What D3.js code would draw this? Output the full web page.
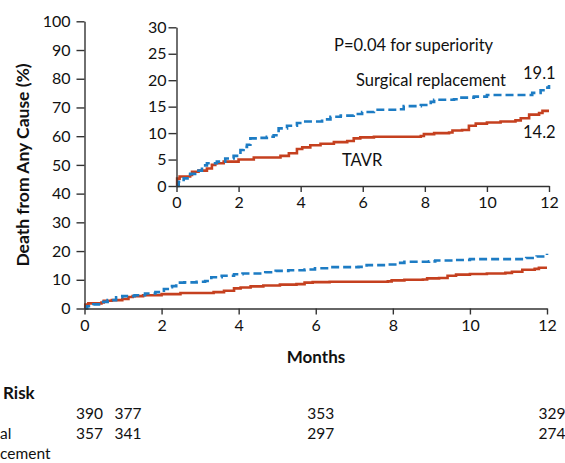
<!DOCTYPE html>
<html>
<head>
	<title>Death from Any Cause</title>
	<script src="https://d3js.org/d3.v7.min.js"></script>
	<style>
		body { margin: 0; background: #fff; }
		svg { display: block; font-family: Lato, "Open Sans", sans-serif; }
	</style>
</head>
<body>
	<script>
		// Kaplan-Meier estimates (months, cumulative %)
		var tavrMonths = [0, 0.02, 0.1, 0.44, 0.5, 0.71, 0.98, 1.14, 1.25, 1.52, 2.0, 2.49, 3.35, 3.62, 3.88, 4.05, 4.31, 4.64, 5.07, 5.5, 5.71, 5.92, 6.36, 7.87, 7.97, 8.3, 8.78, 8.89, 9.2, 9.42, 9.64, 10.0, 10.44, 10.92, 11.09, 11.36, 11.68, 11.79, 12];
		var tavrValues = [0, 1.4, 1.8, 2.1, 2.7, 2.9, 3.3, 4.0, 4.3, 4.6, 5.0, 5.4, 5.7, 6.2, 7.0, 7.3, 7.7, 8.0, 8.3, 8.5, 9.0, 9.2, 9.3, 9.45, 9.8, 10.0, 10.1, 10.5, 10.6, 11.4, 11.8, 12.0, 12.2, 12.4, 12.8, 13.5, 13.8, 14.2, 14.2];

		var surgMonths = [0, 0.07, 0.23, 0.44, 0.6, 0.82, 0.98, 1.3, 1.57, 1.84, 2.06, 2.16, 2.27, 2.38, 2.59, 2.91, 3.13, 3.29, 3.56, 3.88, 4.1, 4.53, 4.69, 4.96, 5.29, 5.71, 5.98, 6.36, 7.11, 7.32, 7.87, 8.19, 8.3, 8.94, 9.1, 9.58, 10.0, 11.19, 11.46, 11.73, 11.9, 12];
		var surgValues = [0, 0.8, 1.45, 2.3, 2.9, 3.9, 4.3, 4.6, 5.2, 5.7, 6.8, 7.4, 7.8, 9.0, 9.1, 9.3, 9.6, 10.9, 11.4, 11.9, 12.2, 12.2, 12.6, 13.1, 13.3, 13.6, 14.0, 14.4, 14.5, 15.1, 15.3, 15.9, 16.3, 16.4, 16.7, 16.9, 17.2, 17.2, 17.6, 18.1, 18.6, 19.1];

		// number at risk
		var riskMonths = [0, 1, 6, 12];
		var riskTavr = [390, 377, 353, 329];
		var riskSurg = [357, 341, 297, 274];

		var xTicks = [0, 2, 4, 6, 8, 10, 12];
		var yTicks = [0, 10, 20, 30, 40, 50, 60, 70, 80, 90, 100];
		var insetYTicks = [0, 5, 10, 15, 20, 25, 30];

		var red = "#c5401f", blue = "#1d7cc4", axisColor = "#333";

		var svg = d3.select("body")
		  .append("svg")
		    .attr("width", 565)
		    .attr("height", 463);

		var tavr = tavrMonths.map(function(m, i) { return [m, tavrValues[i]]; });
		var surg = surgMonths.map(function(m, i) { return [m, surgValues[i]]; });

		// draws one panel (main plot or inset)
		function panel(x, y, ticksY, tickPadY) {
		  var g = svg.append("g");

		  var line = d3.line()
		      .curve(d3.curveStepAfter)
		      .x(function(d) { return x(d[0]); })
		      .y(function(d) { return y(d[1]); });

		  g.append("path")
		      .datum(tavr)
		      .attr("fill", "none")
		      .attr("stroke", red)
		      .attr("stroke-width", 2.6)
		      .attr("d", line);

		  g.append("path")
		      .datum(surg)
		      .attr("fill", "none")
		      .attr("stroke", blue)
		      .attr("stroke-width", 2.6)
		      .attr("stroke-dasharray", "8,4")
		      .attr("d", line);

		  var yAxis = g.append("g")
		      .attr("transform", "translate(" + x.range()[0] + ",0)")
		      .call(d3.axisLeft(y).tickValues(ticksY).tickSize(8).tickPadding(tickPadY).tickSizeOuter(0));

		  var xAxis = g.append("g")
		      .attr("transform", "translate(0," + y.range()[0] + ")")
		      .call(d3.axisBottom(x).tickValues(xTicks).tickSize(6).tickPadding(5).tickSizeOuter(0));

		  [xAxis, yAxis].forEach(function(a) {
		    a.select(".domain").attr("stroke", axisColor).attr("stroke-width", 1.4);
		    a.selectAll(".tick line").attr("stroke", axisColor).attr("stroke-width", 1.4);
		    a.selectAll(".tick text")
		        .attr("fill", "#111")
		        .style("font-family", "Lato, 'Open Sans', sans-serif")
		        .style("font-size", "16px");
		  });
		  return g;
		}

		// main plot
		var x = d3.scaleLinear().domain([0, 12]).range([84.5, 547]);
		var y = d3.scaleLinear().domain([0, 100]).range([308.5, 21.3]);
		panel(x, y, yTicks, 6);

		// inset
		var xi = d3.scaleLinear().domain([0, 12]).range([176.5, 549]);
		var yi = d3.scaleLinear().domain([0, 30]).range([186, 27.3]);
		panel(xi, yi, insetYTicks, 2);

		// axis titles
		svg.append("text")
		    .attr("transform", "translate(29,165) rotate(-90)")
		    .attr("text-anchor", "middle")
		    .attr("font-weight", "bold")
		    .attr("font-size", 17.5)
		    .attr("fill", "#111")
		    .text("Death from Any Cause (%)");

		svg.append("text")
		    .attr("x", 316)
		    .attr("y", 363)
		    .attr("text-anchor", "middle")
		    .attr("font-weight", "bold")
		    .attr("font-size", 17)
		    .attr("fill", "#111")
		    .text("Months");

		// inset annotations
		var notes = [
		  {t: "P=0.04 for superiority", x: 334, y: 51},
		  {t: "Surgical replacement", x: 356, y: 86},
		  {t: "19.1", x: 523, y: 79},
		  {t: "14.2", x: 523, y: 138},
		  {t: "TAVR", x: 342, y: 166}
		];
		svg.selectAll("text.note")
		    .data(notes)
		    .enter()
		    .append("text")
		      .attr("class", "note")
		      .attr("x", function(d) { return d.x; })
		      .attr("y", function(d) { return d.y; })
		      .attr("font-size", 16.5)
		      .attr("fill", "#111")
		      .text(function(d) { return d.t; });

		// number at risk table; only the right ends of its row labels show in the figure
		svg.append("text")
		    .attr("x", 3)
		    .attr("y", 399)
		    .attr("font-weight", "bold")
		    .attr("font-size", 17)
		    .attr("fill", "#111")
		    .text("Risk");

		svg.append("text")
		    .attr("x", 0)
		    .attr("y", 439)
		    .attr("font-size", 15.5)
		    .attr("fill", "#111")
		    .text("al");

		svg.append("text")
		    .attr("x", 0)
		    .attr("y", 459)
		    .attr("font-size", 15.5)
		    .attr("fill", "#111")
		    .text("cement");

		[[riskTavr, 419], [riskSurg, 439]].forEach(function(row) {
		  svg.append("g")
		    .selectAll("text")
		    .data(row[0])
		    .enter()
		    .append("text")
		      .attr("x", function(d, i) { return x(riskMonths[i]) + 5; })
		      .attr("y", row[1])
		      .attr("text-anchor", "middle")
		      .attr("font-size", 15.5)
		      .attr("fill", "#111")
		      .text(function(d) { return d; });
		});
	</script>
</body>
</html>
